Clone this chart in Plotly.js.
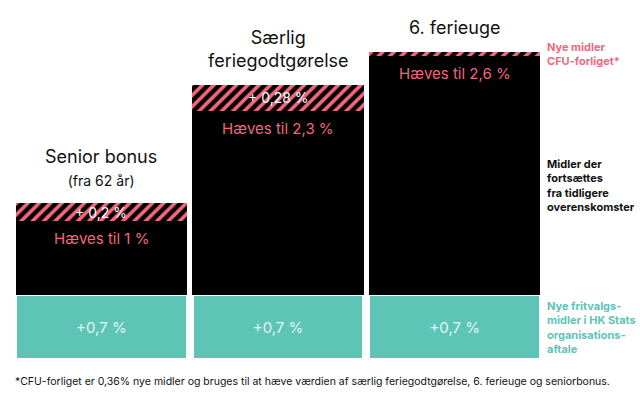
<!DOCTYPE html>
<html>
<head>
<meta charset="utf-8">
<script src="https://cdn.plot.ly/plotly-3.0.1.min.js"></script>
<style>html,body{margin:0;padding:0;background:#fff;}#chart{width:640px;height:400px;}</style>
</head>
<body>
<div id="chart"></div>
<script>
const categories = ['Senior bonus', 'Særlig feriegodtgørelse', '6. ferieuge'];
const titles = ['Senior bonus<br><span style="font-size:14px">(fra 62 år)</span>', 'Særlig<br>feriegodtgørelse', '6. ferieuge'];
const fritvalg = [0.7, 0.7, 0.7];
const existing = [0.81, 2.02, 2.62];
const cfu = [0.2, 0.28, 0.04];
const fritvalgLabels = ['+0,7 %', '+0,7 %', '+0,7 %'];
const cfuLabels = ['+ 0,2 %', '+ 0,28 %', ''];
const raisedLabels = ['Hæves til 1 %', 'Hæves til 2,3 %', 'Hæves til 2,6 %'];

const PINK = '#f2677c';
const TEAL = '#5ec4b6';
const FONT = 'Inter, "Noto Sans", sans-serif';

const traces = [
  {type:'bar', x:categories, y:fritvalg, marker:{color:TEAL, line:{color:'#fff', width:2.5}},
   text:fritvalgLabels, textposition:'inside', insidetextanchor:'middle',
   textfont:{color:'#e2f5f1', size:15, family:FONT}, hoverinfo:'skip'},
  {type:'bar', x:categories, y:existing, marker:{color:'#000', line:{width:0}}, hoverinfo:'skip'},
  {type:'bar', x:categories, y:cfu, marker:{color:'#000', line:{width:0},
     pattern:{shape:'/', fgcolor:PINK, bgcolor:'#000', size:8, solidity:0.45}}, hoverinfo:'skip'}
];

const annotations = [];
categories.forEach((c, i) => {
  const base = fritvalg[i] + existing[i];
  const total = base + cfu[i];
  annotations.push({x:c, y:total, xref:'x', yref:'y', text:titles[i], showarrow:false,
    yanchor:'bottom', yshift:12, font:{size:18, color:'#111', family:FONT}});
  annotations.push({x:c, y:base, xref:'x', yref:'y', text:raisedLabels[i], showarrow:false,
    yanchor:'top', yshift:-6, font:{size:15, color:PINK, family:FONT}});
  if (cfuLabels[i]) annotations.push({x:c, y:base + cfu[i]/2, xref:'x', yref:'y', text:cfuLabels[i], showarrow:false,
    yanchor:'middle', font:{size:14, color:'#fff', family:FONT}});
});
annotations.push({xref:'paper', yref:'paper', x:1, y:0.857, xanchor:'left', yanchor:'middle', xshift:2, align:'left', showarrow:false,
  text:'<b>Nye midler<br>CFU-forliget*</b>', font:{size:11, color:PINK, family:FONT}});
annotations.push({xref:'paper', yref:'paper', x:1, y:0.487, xanchor:'left', yanchor:'middle', xshift:2, align:'left', showarrow:false,
  text:'<b>Midler der<br>fortsættes<br>fra tidligere<br>overenskomster</b>', font:{size:11, color:'#111', family:FONT}});
annotations.push({xref:'paper', yref:'y', x:1, y:fritvalg[0]/2, xanchor:'left', yanchor:'middle', xshift:2, align:'left', showarrow:false,
  text:'<b>Nye fritvalgs-<br>midler i HK Stats<br>organisations-<br>aftale</b>', font:{size:11, color:TEAL, family:FONT}});
annotations.push({xref:'paper', yref:'paper', x:0, y:-0.062, xanchor:'left', yanchor:'middle', showarrow:false,
  text:'*CFU-forliget er 0,36% nye midler og bruges til at hæve værdien af særlig feriegodtgørelse, 6. ferieuge og seniorbonus.',
  font:{size:10.5, color:'#111', family:FONT}});

const layout = {
  width:640, height:400, margin:{l:13, r:97, t:3, b:41},
  paper_bgcolor:'#fff', plot_bgcolor:'#fff', barmode:'stack', bargap:0.032, showlegend:false,
  xaxis:{visible:false, fixedrange:true},
  yaxis:{visible:false, range:[0, 3.9], fixedrange:true},
  annotations:annotations, font:{family:FONT}
};
Plotly.newPlot('chart', traces, layout, {displayModeBar:false, staticPlot:true});
</script>
</body>
</html>
